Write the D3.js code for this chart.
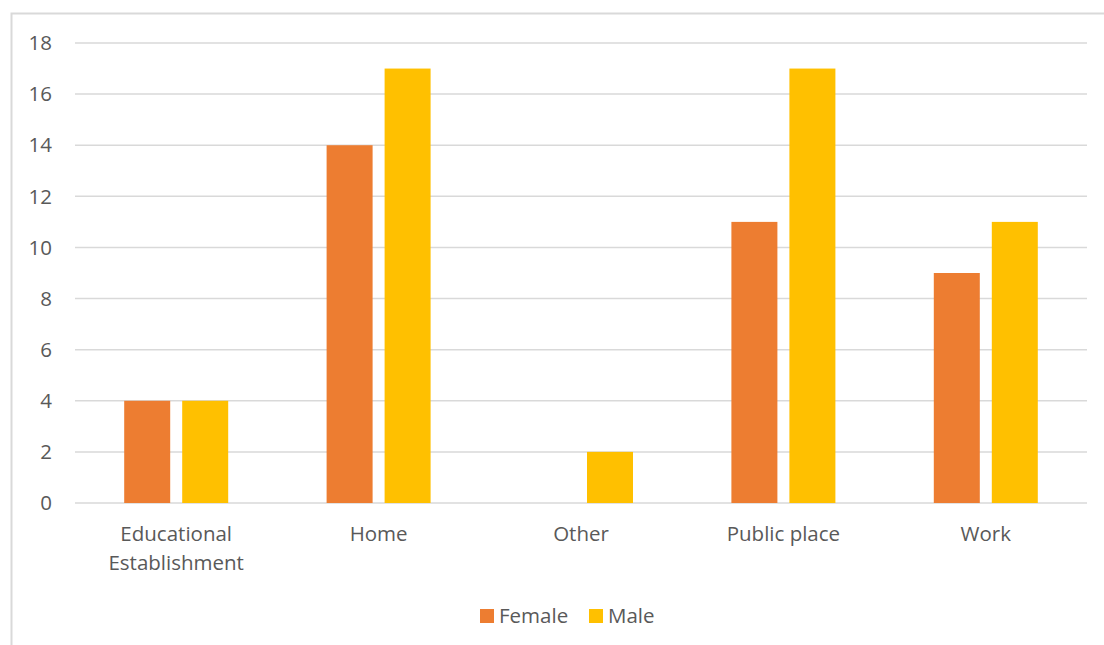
<!DOCTYPE html>
<html><head><meta charset="utf-8">
<script src="https://cdn.jsdelivr.net/npm/d3@7"></script>
<style>body{margin:0;background:#fff}svg{display:block}</style>
</head><body>
<svg id="c" width="1104" height="645"></svg>
<script>
const categories = ["Educational Establishment","Home","Other","Public place","Work"];
const female = [4,14,0,11,9];
const male = [4,17,2,17,11];
const seriesNames = ["Female","Male"];
const colors = ["#ED7D31","#FFC000"];
const yTicks = [0,2,4,6,8,10,12,14,16,18];

const svg = d3.select("#c");
const font = "'Open Sans', sans-serif";
const fs = 20.5;
const W=1104,H=645;
const m = {l:75,r:17,t:43,b:142};
// frame
svg.append("rect").attr("x",11.5).attr("y",13.5).attr("width",1110).attr("height",700)
  .attr("fill","none").attr("stroke","#d9d9d9").attr("stroke-width",2);

const x = d3.scaleBand().domain(categories).range([m.l, W-m.r]);
const y = d3.scaleLinear().domain([0,18]).range([H-m.b, m.t]);
const data = categories.map((c,i)=>({c, v:[female[i],male[i]]}));

const g = svg.append("g");
g.selectAll("line.grid").data(yTicks).join("line")
  .attr("x1",m.l).attr("x2",W-m.r).attr("y1",d=>y(d)).attr("y2",d=>y(d))
  .attr("stroke","#d9d9d9").attr("stroke-width",1.5);

const barW = 46, gap = 12;
const groups = g.selectAll("g.cat").data(data).join("g");
groups.selectAll("rect").data(d=>d.v.map((v,j)=>({c:d.c,v,j}))).join("rect")
  .attr("x",d=>x(d.c)+x.bandwidth()/2 - (barW*2+gap)/2 + d.j*(barW+gap))
  .attr("width",barW)
  .attr("y",d=>y(d.v)).attr("height",d=>y(0)-y(d.v))
  .attr("fill",d=>colors[d.j]);

// y labels
g.selectAll("text.yl").data(yTicks).join("text")
  .attr("x",52).attr("y",d=>y(d)).attr("dy","0.35em").attr("text-anchor","end")
  .attr("font-family",font).attr("font-size",fs).attr("fill","#595959").text(d=>d);

// x labels
const wrap = {"Educational Establishment":["Educational","Establishment"]};
categories.forEach(c=>{
  const lines = wrap[c]||[c];
  const t = g.append("text").attr("x",x(c)+x.bandwidth()/2).attr("y",541)
    .attr("text-anchor","middle").attr("font-family",font).attr("font-size",fs).attr("fill","#595959");
  lines.forEach((l,i)=>t.append("tspan").attr("x",x(c)+x.bandwidth()/2).attr("dy",i?29:0).text(l));
});

// legend
const leg = [{n:seriesNames[0],x:480},{n:seriesNames[1],x:589}];
leg.forEach((d,i)=>{
  svg.append("rect").attr("x",d.x).attr("y",609).attr("width",14).attr("height",14).attr("fill",colors[i]);
  svg.append("text").attr("x",d.x+19).attr("y",616).attr("dy","0.35em").attr("font-family",font)
    .attr("font-size",fs).attr("fill","#595959").text(d.n);
});
</script></body></html>
